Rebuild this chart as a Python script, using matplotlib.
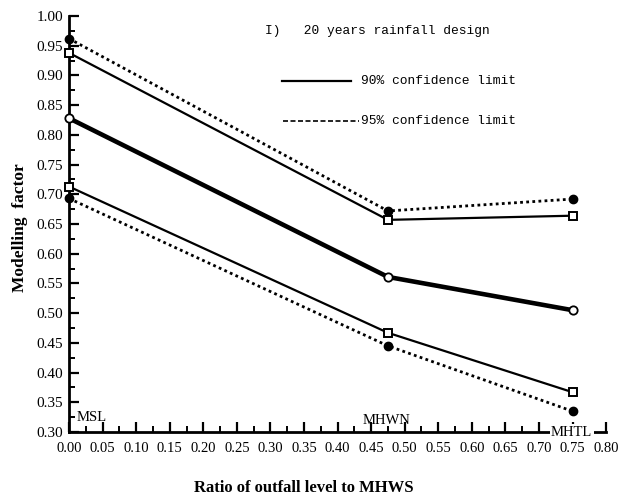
import matplotlib
matplotlib.use("Agg")
import matplotlib.pyplot as plt
import numpy as np
from matplotlib.ticker import MultipleLocator

# DATA
ratio = [0.0, 0.475, 0.75]
mean_factor = [0.828, 0.561, 0.505]
upper_90 = [0.938, 0.657, 0.664]
lower_90 = [0.713, 0.467, 0.367]
upper_95 = [0.962, 0.672, 0.692]
lower_95 = [0.693, 0.445, 0.335]

serif = "Liberation Serif"
mono = "Liberation Mono"

fig = plt.figure(figsize=(6.18, 5.01), dpi=100)
ax = fig.add_axes([0.1117, 0.1377, 0.869, 0.8303])

# LINES
ax.plot(ratio, upper_95, color="black", linestyle=(0, (1, 1.2)), linewidth=2.0,
        marker="o", markersize=6, markerfacecolor="black", clip_on=False, zorder=3)
ax.plot(ratio, lower_95, color="black", linestyle=(0, (1, 1.2)), linewidth=2.0,
        marker="o", markersize=6, markerfacecolor="black", clip_on=False, zorder=3)
ax.plot(ratio, upper_90, color="black", linewidth=1.6,
        marker="s", markersize=6, markerfacecolor="white", markeredgewidth=1.4,
        clip_on=False, zorder=4)
ax.plot(ratio, lower_90, color="black", linewidth=1.6,
        marker="s", markersize=6, markerfacecolor="white", markeredgewidth=1.4,
        clip_on=False, zorder=4)
ax.plot(ratio, mean_factor, color="black", linewidth=3.3,
        marker="o", markersize=6, markerfacecolor="white", markeredgewidth=1.3,
        clip_on=False, zorder=5)

# AXES
ax.set_xlim(0, 0.80)
ax.set_ylim(0.30, 1.00)
ax.xaxis.set_major_locator(MultipleLocator(0.05))
ax.xaxis.set_minor_locator(MultipleLocator(0.025))
ax.yaxis.set_major_locator(MultipleLocator(0.05))
ax.yaxis.set_minor_locator(MultipleLocator(0.025))
ax.xaxis.set_major_formatter(plt.FuncFormatter(lambda v, p: f"{v:.2f}"))
ax.yaxis.set_major_formatter(plt.FuncFormatter(lambda v, p: f"{v:.2f}"))
ax.tick_params(axis="both", which="major", direction="in", length=7, width=1.6)
ax.tick_params(axis="both", which="minor", direction="in", length=4, width=1.4)
ax.tick_params(axis="x", labelsize=10.5, pad=7)
ax.tick_params(axis="y", labelsize=11, pad=4)
for lab in ax.get_xticklabels() + ax.get_yticklabels():
    lab.set_fontfamily(serif)

ax.spines["top"].set_visible(False)
ax.spines["right"].set_visible(False)
ax.spines["left"].set_linewidth(2.0)
ax.spines["bottom"].set_linewidth(2.0)

ax.set_ylabel("Modelling  factor", fontfamily=serif, fontweight="bold",
              fontsize=12.5)
ax.yaxis.set_label_coords(-0.076, 0.49)
ax.set_xlabel("Ratio of outfall level to MHWS", fontfamily=serif,
              fontweight="bold", fontsize=12)
ax.xaxis.set_label_coords(0.438, -0.115)

# ANNOTATIONS
ax.text(0.011, 0.318, "MSL", fontfamily=serif, fontsize=10.5)
ax.text(0.437, 0.313, "MHWN", fontfamily=serif, fontsize=10.5)
ax.text(0.718, 0.300, "MHTL", fontfamily=serif, fontsize=10.5, va="center",
        bbox=dict(facecolor="white", edgecolor="none", pad=1.0), zorder=6,
        clip_on=False)

ax.text(0.292, 0.975, "I)   20 years rainfall design", fontfamily=mono,
        fontsize=9.3, va="center")
ax.plot([0.317, 0.420], [0.890, 0.890], color="black", linewidth=1.6)
ax.text(0.435, 0.890, "90% confidence limit", fontfamily=mono, fontsize=9.3,
        va="center")
ax.plot([0.318, 0.432], [0.823, 0.823], color="black", linewidth=1.2,
        linestyle=(0, (3, 1.5)))
ax.text(0.435, 0.823, "95% confidence limit", fontfamily=mono, fontsize=9.3,
        va="center")

fig.savefig("out.png", dpi=100)
